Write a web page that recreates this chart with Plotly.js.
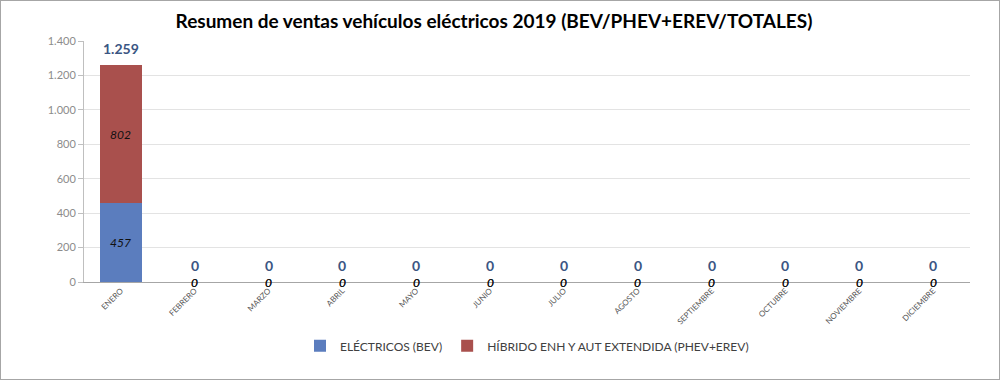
<!DOCTYPE html>
<html>
<head>
<meta charset="utf-8">
<script src="https://cdn.plot.ly/plotly-3.0.1.min.js"></script>
<style>
html,body{margin:0;padding:0;background:#fff;}
#chart{width:1000px;height:380px;box-sizing:border-box;border:1px solid #a6a6a6;}
</style>
</head>
<body>
<div id="chart"></div>
<script>
const months = ["ENERO","FEBRERO","MARZO","ABRIL","MAYO","JUNIO","JULIO","AGOSTO","SEPTIEMBRE","OCTUBRE","NOVIEMBRE","DICIEMBRE"];
const bev = [457,0,0,0,0,0,0,0,0,0,0,0];
const phev = [802,0,0,0,0,0,0,0,0,0,0,0];
const seriesNames = ["ELÉCTRICOS (BEV)","HÍBRIDO ENH Y AUT EXTENDIDA (PHEV+EREV)"];
const titleText = "Resumen de ventas vehículos eléctricos 2019 (BEV/PHEV+EREV/TOTALES)";

const FONT = "Lato, 'Open Sans', sans-serif";
const fmt = n => String(n).replace(/\B(?=(\d{3})+(?!\d))/g, ".");
const totals = months.map((m,i) => bev[i] + phev[i]);

const traces = [
  {type:"bar", name:seriesNames[0], x:months, y:bev, marker:{color:"#5b7dbe"}, hoverinfo:"skip"},
  {type:"bar", name:seriesNames[1], x:months, y:phev, marker:{color:"#a9504d"}, hoverinfo:"skip"}
];

const segFont = {family:FONT, size:12, color:"#111"};
const annotations = [];
months.forEach((m,i) => {
  annotations.push({x:m, y:bev[i]/2, xref:"x", yref:"y", text:"<i>"+fmt(bev[i])+"</i>", showarrow:false,
    font:segFont, yanchor:"middle"});
  annotations.push({x:m, y:bev[i] + phev[i]/2, xref:"x", yref:"y", text:"<i>"+fmt(phev[i])+"</i>", showarrow:false,
    font:segFont, yanchor:"middle"});
  annotations.push({x:m, y:totals[i], xref:"x", yref:"y", text:"<b>"+fmt(totals[i])+"</b>", showarrow:false,
    font:{family:FONT, size:14, color:"#3b5683"}, yanchor:"bottom", yshift:6});
});

const layout = {
  width:998, height:378,
  margin:{l:83, r:29, t:40, b:97, pad:0},
  paper_bgcolor:"#fff", plot_bgcolor:"#fff",
  separators:",.",
  barmode:"stack", bargap:0.42,
  font:{family:FONT, color:"#404040"},
  title:{text:"<b>"+titleText+"</b>", font:{family:FONT, size:19, color:"#000"},
    x:0.494, xanchor:"center", y:0.947, yanchor:"middle", xref:"container", yref:"container"},
  xaxis:{type:"category", tickangle:-45, tickfont:{size:8, color:"#595959"},
    showline:true, linecolor:"#a6a6a6", linewidth:1, ticks:"", showgrid:false, fixedrange:true},
  yaxis:{range:[0,1400], dtick:200, tickformat:",d", tickfont:{size:11, color:"#8c8c8c"},
    showline:true, linecolor:"#bfbfbf", linewidth:1, ticks:"outside", ticklen:5, tickcolor:"#bfbfbf",
    gridcolor:"#e3e3e3", gridwidth:1, zeroline:false, fixedrange:true},
  showlegend:true,
  legend:{orientation:"h", x:0.5, xanchor:"center", y:-0.265, yanchor:"middle",
    font:{family:FONT, size:12, color:"#404040"}, traceorder:"normal", itemwidth:30},
  annotations:annotations
};

Plotly.newPlot("chart", traces, layout, {displayModeBar:false, staticPlot:true});
</script>
</body>
</html>
